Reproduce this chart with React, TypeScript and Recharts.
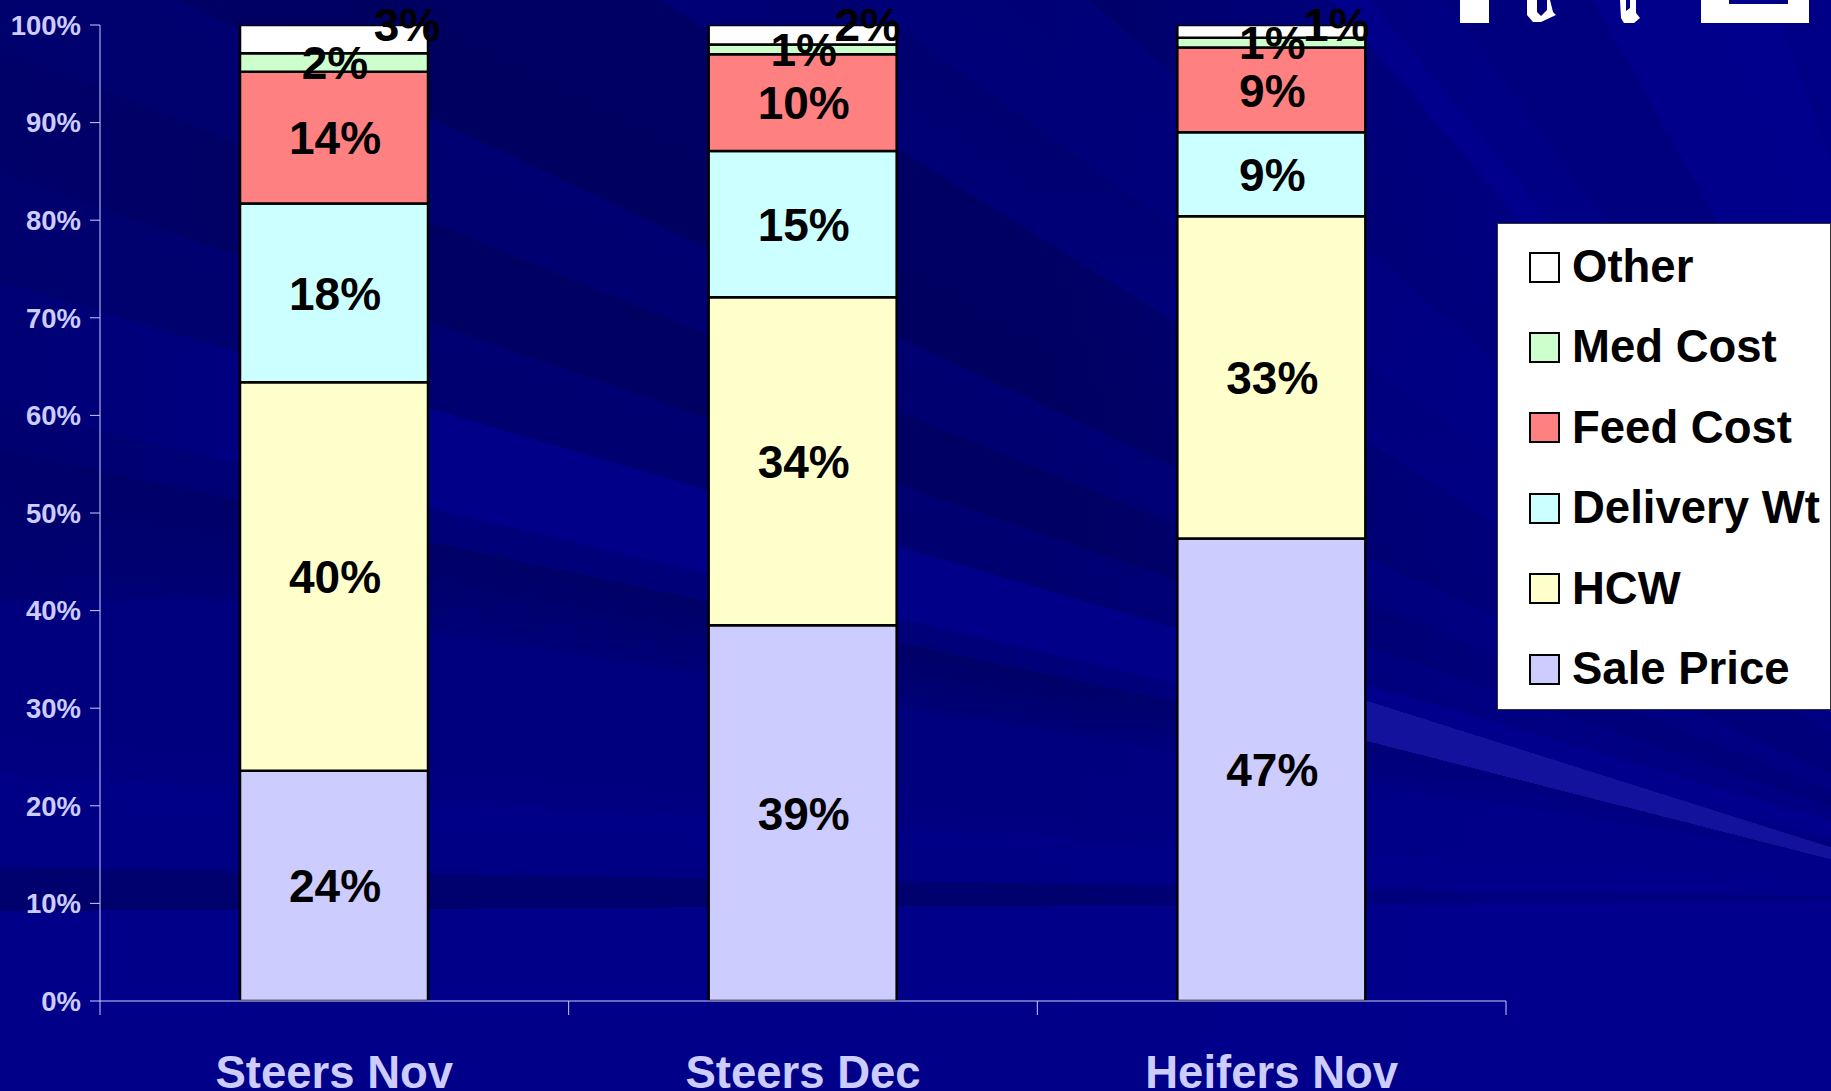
import { BarChart, Bar, XAxis, YAxis, Legend, LabelList } from "recharts";

const categories = ["Steers Nov", "Steers Dec", "Heifers Nov"];
const salePrice = [23.6, 38.5, 47.4];
const hcw = [39.8, 33.6, 33.0];
const deliveryWt = [18.3, 15.0, 8.6];
const feedCost = [13.5, 9.9, 8.7];
const medCost = [1.9, 1.0, 1.0];
const other = [2.9, 2.0, 1.3];
const yTicks = [0, 10, 20, 30, 40, 50, 60, 70, 80, 90, 100];

const seriesNames = ["Sale Price", "HCW", "Delivery Wt", "Feed Cost", "Med Cost", "Other"];
const seriesValues = [salePrice, hcw, deliveryWt, feedCost, medCost, other];
const seriesColors = ["#ccccff", "#ffffcc", "#ccffff", "#ff8080", "#ccffcc", "#ffffff"];

const data = categories.map((name, i) => {
  const row: Record<string, string | number> = { name };
  seriesNames.forEach((s, j) => {
    row[s] = seriesValues[j][i];
  });
  return row;
});

const AXIS = "#ccccff";
const FONT = '"Liberation Sans", Arial, sans-serif';
const PLOT_WIDTH = 1406;

// the "Other" labels sit up and to the right of their segment
const otherLabelDx = [72, 64, 64];

// slide background: rays fanning out from a point off the lower right corner
const rays = `conic-gradient(from 0deg at 2100px 900px,
  #000088 262deg, #000088 269.7deg,
  #00006c 269.7deg, #000070 270.9deg,
  #000084 270.9deg, #000086 273.5deg,
  #000080 273.5deg, #00007e 279.1deg,
  #000078 279.1deg, #000066 282.1deg,
  #000078 282.1deg, #00007a 283.2deg,
  #000088 283.2deg, #000088 286.4deg,
  #000070 286.4deg, #000072 289.1deg,
  #000062 289.1deg, #000062 292.1deg,
  #000070 292.1deg, #000072 295.1deg,
  #000060 295.1deg, #000064 302deg,
  #000076 302deg, #000070 306deg,
  #000078 306deg, #000076 311.7deg,
  #000068 311.7deg, #00006e 319.5deg,
  #000088 319.5deg, #000088 321deg,
  #000076 321deg, #000076 324deg,
  #00006a 324deg, #00006a 330.6deg,
  #000084 330.6deg, #000088 340deg,
  #000078 340deg, #000080 350deg)`;
const rightFade = "linear-gradient(to right, rgba(0,0,144,0) 1050px, rgba(0,0,144,0.55) 1500px)";
const leftFade = "linear-gradient(to right, rgba(0,0,108,0.7) 0, rgba(0,0,108,0) 380px) 0 0 / 400px 600px no-repeat";

// tick marks sit on the category boundaries, not under the bars
function renderEdgeTick(props: any) {
  const { x, y, index } = props;
  const band = PLOT_WIDTH / categories.length;
  const edges = index === categories.length - 1 ? [x - band / 2, x + band / 2] : [x - band / 2];
  return (
    <g>
      {edges.map((ex) => (
        <line key={ex} x1={ex} x2={ex} y1={y} y2={y + 14} stroke={AXIS} />
      ))}
    </g>
  );
}

function renderBarLabel(props: any, seriesIndex: number) {
  const { x, y, width, height, value, index } = props;
  const isOther = seriesIndex === seriesNames.length - 1;
  return (
    <text
      x={x + width / 2 + 1 + (isOther ? otherLabelDx[index] : 0)}
      y={isOther ? y : y + height / 2 + 0.5}
      dy="0.35em"
      textAnchor="middle"
      fontFamily={FONT}
      fontWeight="bold"
      fontSize={46}
      fill="#000000"
    >
      {Math.round(value)}%
    </text>
  );
}

function renderLegend() {
  return (
    <div style={{ background: "#fff", height: 487, width: 334, boxSizing: "border-box", border: "1px solid #333", position: "relative" }}>
      {[...seriesNames].reverse().map((name, i) => (
        <div key={name} style={{ position: "absolute", left: 31, top: 21 + i * 80.4, height: 44, display: "flex", alignItems: "center" }}>
          <span style={{ width: 27, height: 27, border: "2px solid #000", background: seriesColors[seriesColors.length - 1 - i], display: "inline-block" }} />
          <span style={{ marginLeft: 12, fontFamily: FONT, fontWeight: "bold", fontSize: 45.5, color: "#000", whiteSpace: "nowrap", lineHeight: "44px" }}>{name}</span>
        </div>
      ))}
    </div>
  );
}

export default function App() {
  return (
    <div style={{ position: "absolute", left: 0, top: 0, width: 1831, height: 1091, overflow: "hidden", background: `${leftFade}, ${rightFade}, ${rays}` }}>
      {/* the brightest ray turns pale to the right of the last bar */}
      <div
        style={{
          position: "absolute",
          left: 1365,
          top: 680,
          width: 466,
          height: 200,
          background: "conic-gradient(from 0deg at 665px 230px, transparent 284.3deg, #12129c 284.3deg, #12129c 287.5deg, transparent 287.5deg)",
        }}
      />
      {/* clipped white slide artwork along the top edge */}
      <svg width={1831} height={30} style={{ position: "absolute", left: 0, top: 0 }}>
        <path d="M1460 0h29v23h-29z" fill="#fff" />
        <path d="M1527 0h10v12l4 4 6-6v-10h3l3 12 3 3-15 7-8 0-6-7z" fill="#fff" />
        <path d="M1620 0h6v11l4-3v-8h6v13l4 5-6 5h-10l-3-5z" fill="#fff" />
        <path d="M1701 0h28v4h59v-4h21v23h-108z" fill="#fff" />
      </svg>
      <div style={{ position: "absolute", left: 0, top: 0 }}>
        <BarChart
          width={1831}
          height={1091}
          data={data}
          margin={{ top: 25, right: 325, bottom: 0, left: 0 }}
          barSize={188}
        >
          <XAxis
            xAxisId="axisEdges"
            dataKey="name"
            interval={0}
            height={14}
            tickSize={0}
            tickMargin={0}
            tickLine={false}
            tick={renderEdgeTick}
            stroke={AXIS}
          />
          <XAxis
            xAxisId="cat"
            dataKey="name"
            interval={0}
            height={76}
            axisLine={false}
            tickLine={false}
            tickMargin={35}
            tick={{ fill: AXIS, fontSize: 45.5, fontWeight: "bold", fontFamily: FONT }}
          />
          <YAxis
            type="number"
            domain={[0, 100]}
            ticks={yTicks}
            width={100}
            interval={0}
            allowDataOverflow
            tickSize={10}
            tickMargin={9}
            tickFormatter={(v: number) => `${v}%`}
            stroke={AXIS}
            tick={{ fill: AXIS, fontSize: 27.5, fontWeight: "bold", fontFamily: FONT }}
          />
          {seriesNames.map((s, j) => (
            <Bar
              key={s}
              xAxisId="cat"
              dataKey={s}
              stackId="a"
              fill={seriesColors[j]}
              stroke="#000000"
              strokeWidth={2.5}
              isAnimationActive={false}
            >
              <LabelList dataKey={s} content={(p: any) => renderBarLabel(p, j)} />
            </Bar>
          ))}
          <Legend
            layout="vertical"
            align="center"
            verticalAlign="middle"
            content={renderLegend}
            wrapperStyle={{ left: 1497, top: 223, width: 334, height: 487 }}
          />
        </BarChart>
      </div>
    </div>
  );
}
